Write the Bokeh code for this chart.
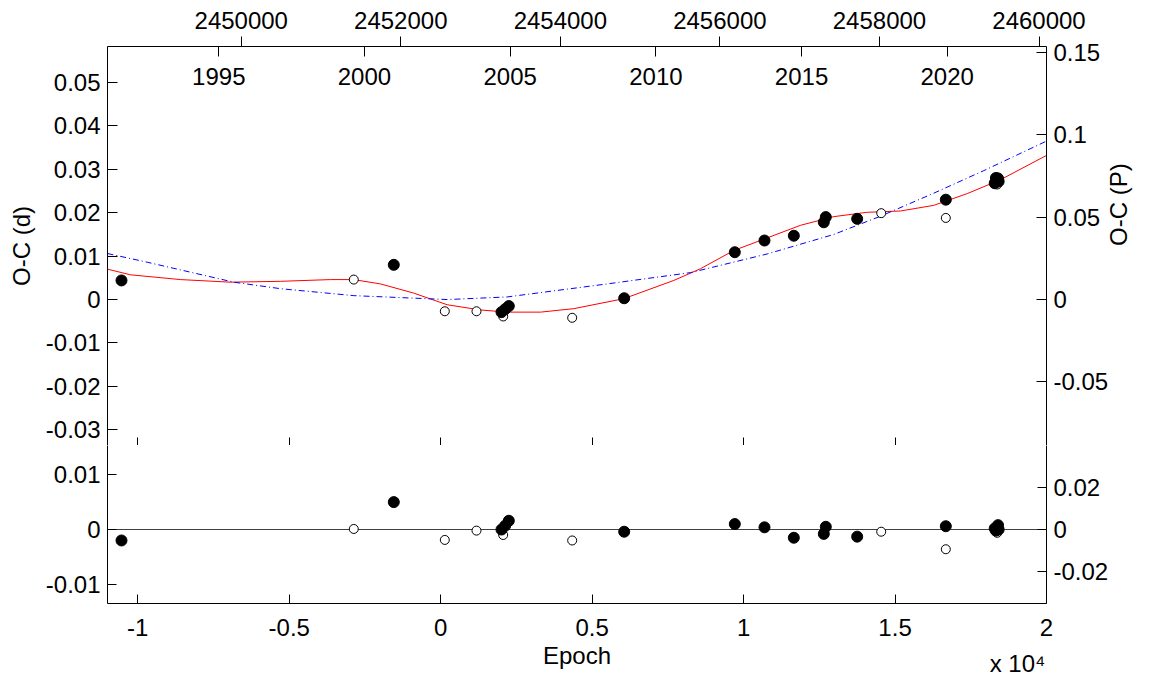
import math
from datetime import date
from bokeh.plotting import figure
from bokeh.layouts import column
from bokeh.models import (Range1d, LinearAxis, FixedTicker, CustomJSTickFormatter,
                          Label, Span)
from bokeh.embed import file_html
from bokeh.resources import INLINE

FONT = "Liberation Sans"
FS = "24px"

# ---- ephemeris used for the secondary axes ----
T0 = 2452500.0
PERIOD = 0.3797

# ---- data ----
pri_epoch = [-10538, -1548, 2007, 2129, 2249, 6058, 9710, 10690, 11658, 12648, 12714,
             13750, 16676, 18290, 18330, 18372, 18400, 18420]
pri_oc = [0.0044, 0.0080, -0.0029, -0.0022, -0.0015, 0.0003, 0.0109, 0.0136, 0.0147,
          0.0178, 0.0190, 0.0186, 0.0230, 0.0268, 0.0280, 0.0275, 0.0279, 0.0272]
pri_res = [-0.0020, 0.0050, 0.0000, 0.0007, 0.0016, -0.0004, 0.0010, 0.0004, -0.0015,
           -0.0008, 0.0005, -0.0013, 0.0006, 0.0002, -0.0002, 0.0004, 0.0008, 0.0000]

sec_epoch = [-2869, 136, 1182, 2063, 4341, 14543, 16676, 18372]
sec_oc = [0.0046, -0.0027, -0.0027, -0.0039, -0.0042, 0.0199, 0.0188, 0.0265]
sec_res = [0.0001, -0.0019, -0.0002, -0.0010, -0.0020, -0.0004, -0.0036, -0.0006]

fit_epoch = [-11000, -10241, -8590, -6939, -5289, -3638, -2879, -1987, -898, 215, 1314,
             2196, 3295, 4394, 6045, 7696, 8577, 9677, 10779, 11878, 12978, 14081, 15180,
             16279, 17382, 18481, 20000]
fit_oc = [0.0070, 0.0057, 0.0046, 0.0040, 0.0042, 0.0046, 0.0046, 0.0036, 0.0015, -0.0012,
          -0.0024, -0.0029, -0.0029, -0.0021, 0.0002, 0.0044, 0.0071, 0.0113, 0.0142, 0.0171,
          0.0191, 0.0201, 0.0204, 0.0217, 0.0244, 0.0276, 0.0332]

quad_epoch = [-11000, -9689, -6830, -5289, -2869, 215, 2196, 5497, 8247, 10779, 12978,
              14520, 16279, 17930, 20000]
quad_oc = [0.0106, 0.0086, 0.0040, 0.0025, 0.0009, 0.0000, 0.0006, 0.0036, 0.0062, 0.0105,
           0.0150, 0.0192, 0.0245, 0.0297, 0.0365]

x_ticks = [-10000, -5000, 0, 5000, 10000, 15000, 20000]
jd_ticks = [2450000, 2452000, 2454000, 2456000, 2458000, 2460000]
year_ticks = [1995, 2000, 2005, 2010, 2015, 2020]
oc_d_ticks = [-0.03, -0.02, -0.01, 0, 0.01, 0.02, 0.03, 0.04, 0.05]
oc_p_ticks = [-0.05, 0, 0.05, 0.1, 0.15]
res_d_ticks = [-0.01, 0, 0.01]
res_p_ticks = [-0.02, 0, 0.02]
scale_note = {19043: "x 10\u2074"}

X_START, X_END = -11000, 20000
OC_RANGE = (-0.03362, 0.05829)
RES_RANGE = (-0.0135, 0.01533)

year_jd = [(date(y, 1, 1) - date(2000, 1, 1)).days + 2451544.5 for y in year_ticks]

fmt = CustomJSTickFormatter(code="return String(Math.round(tick*1e6)/1e6);")
fmt_epoch = CustomJSTickFormatter(code="return String(Math.round(tick/1e4*1e6)/1e6);")


def style_axis(ax, tick_in, tick_out=0):
    ax.major_tick_in = tick_in
    ax.major_tick_out = tick_out
    ax.minor_tick_in = 0
    ax.minor_tick_out = 0
    ax.major_tick_line_color = "black"
    ax.axis_line_color = "black"
    ax.major_label_text_font = FONT
    ax.major_label_text_font_size = FS
    ax.major_label_text_color = "black"
    ax.axis_label_text_font = FONT
    ax.axis_label_text_font_size = FS
    ax.axis_label_text_font_style = "normal"
    ax.axis_label_text_color = "black"
    ax.major_label_standoff = 7


# ---------------- top panel ----------------
p1 = figure(width=1150, height=445, x_range=Range1d(X_START, X_END),
            y_range=Range1d(*OC_RANGE), x_axis_location=None, y_axis_location=None,
            toolbar_location=None, output_backend="svg",
            min_border_left=107, min_border_right=104, min_border_top=46, min_border_bottom=0,
            outline_line_color=None)
p1.grid.visible = False
p1.extra_x_ranges = {"jd": Range1d(T0 + PERIOD * X_START, T0 + PERIOD * X_END)}
p1.extra_y_ranges = {"cyc": Range1d(OC_RANGE[0] / PERIOD, OC_RANGE[1] / PERIOD)}

left1 = LinearAxis(ticker=FixedTicker(ticks=oc_d_ticks), formatter=fmt, axis_label="O-C (d)")
style_axis(left1, 10)
left1.axis_label_standoff = 8
p1.add_layout(left1, "left")

right1 = LinearAxis(y_range_name="cyc", ticker=FixedTicker(ticks=oc_p_ticks), formatter=fmt,
                    axis_label="O-C (P)")
style_axis(right1, 10)
right1.axis_label_standoff = 7
right1.axis_label_orientation = math.pi / 2
right1.axis_label_text_align = "center"
p1.add_layout(right1, "right")

top1 = LinearAxis(x_range_name="jd", ticker=FixedTicker(ticks=jd_ticks, minor_ticks=year_jd),
                  formatter=fmt)
style_axis(top1, 0, 10)
top1.minor_tick_in = 10
top1.minor_tick_out = 0
top1.minor_tick_line_color = "black"
top1.major_label_standoff = 8
p1.add_layout(top1, "above")

bot1 = LinearAxis(ticker=FixedTicker(ticks=x_ticks), formatter=fmt)
style_axis(bot1, 8)
bot1.axis_line_color = None
bot1.major_label_text_color = None
bot1.major_label_standoff = 0
p1.add_layout(bot1, "below")

for yr, jd in zip(year_ticks, year_jd):
    p1.add_layout(Label(x=jd, y=369, x_range_name="jd", x_units="data", y_units="screen",
                        text=str(yr), text_align="center", text_baseline="middle",
                        text_font=FONT, text_font_size=FS, text_color="black"))

p1.line(fit_epoch, fit_oc, line_color="#ff0000", line_width=1)
p1.line(quad_epoch, quad_oc, line_color="#0000ff", line_width=1, line_dash="6 3 1 3")
p1.scatter(sec_epoch, sec_oc, marker="circle", size=9, fill_color="white", line_color="black",
           line_width=1)
p1.scatter(pri_epoch, pri_oc, marker="circle", size=11, fill_color="black", line_color="black")

# ---------------- bottom panel ----------------
p2 = figure(width=1150, height=236, x_range=p1.x_range, y_range=Range1d(*RES_RANGE),
            x_axis_location=None, y_axis_location=None, toolbar_location=None,
            output_backend="svg",
            min_border_left=107, min_border_right=104, min_border_top=0, min_border_bottom=78,
            outline_line_color=None)
p2.grid.visible = False
p2.extra_y_ranges = {"cyc": Range1d(RES_RANGE[0] / PERIOD, RES_RANGE[1] / PERIOD)}

left2 = LinearAxis(ticker=FixedTicker(ticks=res_d_ticks), formatter=fmt)
style_axis(left2, 9)
p2.add_layout(left2, "left")

right2 = LinearAxis(y_range_name="cyc", ticker=FixedTicker(ticks=res_p_ticks), formatter=fmt)
style_axis(right2, 9)
p2.add_layout(right2, "right")

bottom2 = LinearAxis(ticker=FixedTicker(ticks=x_ticks), formatter=fmt_epoch, axis_label="Epoch")
style_axis(bottom2, 9)
bottom2.major_label_standoff = 15
bottom2.axis_label_standoff = 3
p2.add_layout(bottom2, "below")

note2 = LinearAxis(ticker=FixedTicker(ticks=list(scale_note.keys())),
                   major_label_overrides=scale_note)
style_axis(note2, 0, 0)
note2.axis_line_color = None
note2.major_tick_line_color = None
note2.major_label_standoff = -22
p2.add_layout(note2, "below")

p2.add_layout(Span(location=0, dimension="width", line_color="#404040", line_width=1,
                   level="underlay"))

p2.scatter(sec_epoch, sec_res, marker="circle", size=9, fill_color="white", line_color="black",
           line_width=1)
p2.scatter(pri_epoch, pri_res, marker="circle", size=11, fill_color="black", line_color="black")

layout = column(p1, p2)
open("out.html", "w").write(file_html(layout, INLINE))
